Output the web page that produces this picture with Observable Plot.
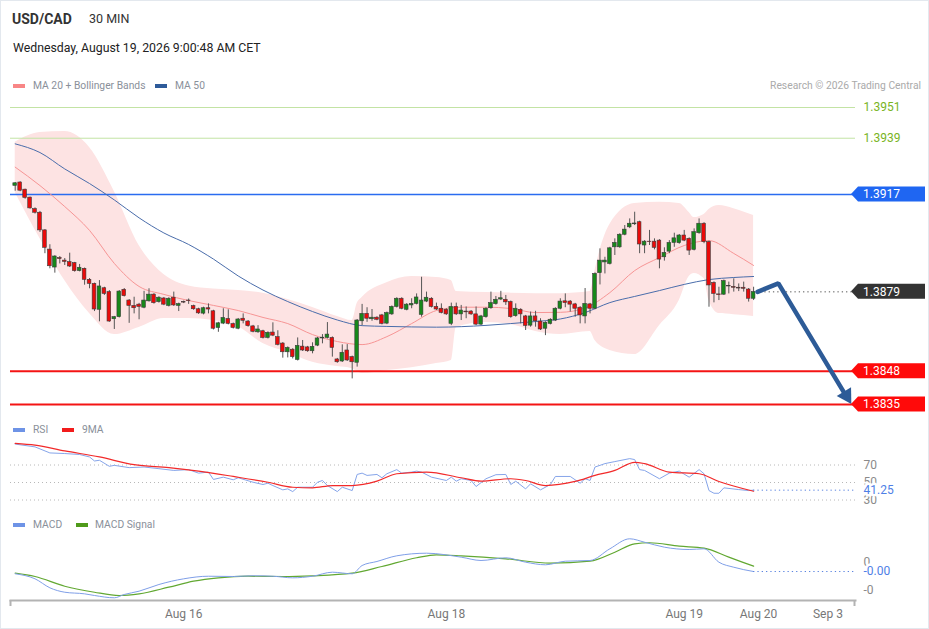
<!DOCTYPE html>
<html><head><meta charset="utf-8">
<script src="https://cdn.jsdelivr.net/npm/d3@7"></script>
<script src="https://cdn.jsdelivr.net/npm/@observablehq/plot@0.6"></script>
<style>
body{margin:0;background:#fff;font-family:Roboto,"Liberation Sans",sans-serif;}
#wrap{position:relative;width:929px;height:629px;overflow:hidden;background:#fff;}
#border{position:absolute;left:0;top:0;width:929px;height:629px;box-sizing:border-box;border:1px solid #e3e8ee;pointer-events:none;}
.a{position:absolute;white-space:nowrap;}
.lg{font-size:10.3px;line-height:12px;color:#8a909a;}
.sw{position:absolute;width:12px;height:4px;}
svg{position:absolute;left:0;}
</style></head>
<body><div id="wrap">
<div class="a" style="left:12px;top:11px;font-size:14px;line-height:16px;font-weight:bold;color:#333;">USD/CAD</div>
<div class="a" style="left:89px;top:11px;font-size:12.5px;line-height:16px;color:#333;">30 MIN</div>
<div class="a" style="left:13px;top:40px;font-size:12.3px;line-height:16px;color:#222;">Wednesday, August 19, 2026 9:00:48 AM CET</div>
<div class="sw" style="left:13px;top:84px;background:#f88686;"></div>
<div class="a lg" style="left:33px;top:80px;">MA 20 + Bollinger Bands</div>
<div class="sw" style="left:155px;top:84px;background:#2e5b9a;"></div>
<div class="a lg" style="left:175px;top:80px;">MA 50</div>
<div class="a lg" style="right:8px;top:80px;color:#aaaaaa;">Research © 2026 Trading Central</div>
<div class="sw" style="left:13px;top:428px;background:#6e93e6;"></div>
<div class="a lg" style="left:33px;top:424px;">RSI</div>
<div class="sw" style="left:62px;top:428px;background:#f21c1c;"></div>
<div class="a lg" style="left:82px;top:424px;">9MA</div>
<div class="sw" style="left:13px;top:523px;background:#6e93e6;"></div>
<div class="a lg" style="left:33px;top:519px;">MACD</div>
<div class="sw" style="left:76px;top:523px;background:#4f9a1a;"></div>
<div class="a lg" style="left:95px;top:519px;">MACD Signal</div>
<div id="border"></div>
</div>
<script>
// ---- Candles (30 min) ----
const candleOpen = [1.39204,1.39217,1.39189,1.39158,1.39113,1.39099,1.39030,1.38955,1.38885,1.38922,
1.38912,1.38906,1.38902,1.38871,1.38880,1.38837,1.38821,1.38720,1.38804,1.38789,
1.38683,1.38691,1.38798,1.38756,1.38735,1.38740,1.38728,1.38753,1.38779,1.38750,
1.38764,1.38735,1.38767,1.38735,1.38750,1.38756,1.38734,1.38722,1.38705,1.38726,
1.38714,1.38649,1.38666,1.38684,1.38664,1.38646,1.38685,1.38674,1.38655,1.38632,
1.38636,1.38610,1.38631,1.38613,1.38588,1.38554,1.38564,1.38524,1.38576,1.38573,
1.38558,1.38580,1.38608,1.38610,1.38610,1.38526,1.38518,1.38561,1.38535,1.38513,
1.38675,1.38704,1.38683,1.38689,1.38698,1.38666,1.38702,1.38731,1.38763,1.38720,
1.38737,1.38743,1.38700,1.38752,1.38763,1.38731,1.38724,1.38720,1.38665,1.38731,
1.38702,1.38713,1.38713,1.38702,1.38662,1.38691,1.38726,1.38742,1.38760,1.38759,
1.38750,1.38695,1.38720,1.38694,1.38658,1.38694,1.38674,1.38646,1.38665,1.38678,
1.38724,1.38753,1.38752,1.38741,1.38728,1.38694,1.38741,1.38724,1.38863,1.38905,
1.38899,1.38964,1.38964,1.39013,1.39042,1.39054,1.39062,1.38971,1.38986,1.38986,
1.38990,1.38925,1.38947,1.38981,1.38980,1.39010,1.38997,1.38954,1.39019,1.39056,
1.38984,1.38825,1.38780,1.38779,1.38813,1.38809,1.38806,1.38806,1.38799,1.38763];
const candleHigh = [1.39217,1.39220,1.39191,1.39160,1.39118,1.39104,1.39033,1.38974,1.38931,1.38928,
1.38920,1.38941,1.38905,1.38897,1.38883,1.38842,1.38824,1.38834,1.38808,1.38795,
1.38694,1.38795,1.38803,1.38760,1.38769,1.38745,1.38792,1.38802,1.38783,1.38771,
1.38768,1.38767,1.38789,1.38746,1.38754,1.38762,1.38738,1.38726,1.38730,1.38743,
1.38718,1.38671,1.38724,1.38720,1.38668,1.38686,1.38704,1.38678,1.38659,1.38658,
1.38640,1.38634,1.38669,1.38638,1.38592,1.38575,1.38568,1.38610,1.38600,1.38577,
1.38591,1.38612,1.38623,1.38670,1.38614,1.38530,1.38583,1.38584,1.38539,1.38682,
1.38741,1.38728,1.38721,1.38693,1.38702,1.38711,1.38735,1.38767,1.38767,1.38744,
1.38763,1.38782,1.38847,1.38789,1.38767,1.38746,1.38743,1.38724,1.38746,1.38746,
1.38737,1.38731,1.38717,1.38731,1.38698,1.38728,1.38789,1.38772,1.38792,1.38776,
1.38754,1.38743,1.38724,1.38698,1.38711,1.38714,1.38685,1.38673,1.38685,1.38728,
1.38763,1.38782,1.38756,1.38745,1.38732,1.38803,1.38745,1.38864,1.38958,1.38925,
1.38964,1.38997,1.39017,1.39049,1.39075,1.39101,1.39066,1.38990,1.39030,1.38997,
1.38994,1.38962,1.38990,1.39019,1.39014,1.39030,1.39001,1.39036,1.39075,1.39060,
1.38988,1.38829,1.38808,1.38836,1.38828,1.38841,1.38821,1.38828,1.38803,1.38808];
const candleLow = [1.39183,1.39181,1.39152,1.39113,1.39094,1.39022,1.38939,1.38880,1.38863,1.38899,
1.38893,1.38885,1.38867,1.38868,1.38816,1.38802,1.38713,1.38673,1.38776,1.38671,
1.38643,1.38688,1.38770,1.38667,1.38704,1.38681,1.38724,1.38750,1.38742,1.38746,
1.38736,1.38731,1.38733,1.38713,1.38744,1.38741,1.38718,1.38702,1.38700,1.38704,
1.38641,1.38632,1.38662,1.38661,1.38645,1.38642,1.38665,1.38652,1.38630,1.38628,
1.38606,1.38606,1.38615,1.38579,1.38531,1.38532,1.38528,1.38520,1.38557,1.38554,
1.38548,1.38576,1.38587,1.38606,1.38535,1.38511,1.38514,1.38518,1.38450,1.38496,
1.38658,1.38671,1.38675,1.38677,1.38661,1.38662,1.38698,1.38727,1.38720,1.38716,
1.38724,1.38739,1.38691,1.38748,1.38727,1.38717,1.38704,1.38698,1.38658,1.38698,
1.38678,1.38685,1.38698,1.38658,1.38658,1.38687,1.38722,1.38738,1.38756,1.38737,
1.38687,1.38691,1.38665,1.38639,1.38652,1.38652,1.38639,1.38619,1.38661,1.38674,
1.38720,1.38728,1.38711,1.38691,1.38665,1.38665,1.38704,1.38720,1.38817,1.38860,
1.38895,1.38932,1.38960,1.39009,1.39037,1.39049,1.38939,1.38939,1.38971,1.38954,
1.38880,1.38910,1.38939,1.38964,1.38976,1.38986,1.38932,1.38950,1.39015,1.38978,
1.38730,1.38747,1.38756,1.38776,1.38782,1.38789,1.38791,1.38789,1.38750,1.38756];
const candleClose = [1.39214,1.39185,1.39157,1.39116,1.39099,1.39030,1.38962,1.38890,1.38928,1.38918,
1.38907,1.38889,1.38871,1.38884,1.38837,1.38821,1.38721,1.38811,1.38782,1.38674,
1.38691,1.38791,1.38773,1.38735,1.38726,1.38731,1.38756,1.38779,1.38746,1.38767,
1.38740,1.38763,1.38737,1.38742,1.38748,1.38754,1.38722,1.38706,1.38726,1.38721,
1.38646,1.38667,1.38688,1.38665,1.38649,1.38682,1.38677,1.38656,1.38634,1.38643,
1.38610,1.38630,1.38619,1.38583,1.38554,1.38571,1.38535,1.38579,1.38561,1.38558,
1.38575,1.38608,1.38611,1.38623,1.38571,1.38515,1.38552,1.38522,1.38515,1.38678,
1.38704,1.38685,1.38689,1.38681,1.38665,1.38707,1.38731,1.38763,1.38724,1.38740,
1.38743,1.38768,1.38756,1.38767,1.38731,1.38721,1.38708,1.38702,1.38731,1.38702,
1.38717,1.38710,1.38702,1.38662,1.38694,1.38724,1.38746,1.38759,1.38765,1.38749,
1.38691,1.38724,1.38702,1.38657,1.38694,1.38675,1.38643,1.38669,1.38681,1.38724,
1.38752,1.38746,1.38740,1.38724,1.38698,1.38743,1.38724,1.38860,1.38912,1.38912,
1.38960,1.38981,1.39013,1.39033,1.39056,1.39057,1.38975,1.38986,1.38984,1.38962,
1.38916,1.38942,1.38981,1.38999,1.39010,1.38990,1.38951,1.39023,1.39056,1.38984,
1.38815,1.38782,1.38777,1.38832,1.38811,1.38806,1.38803,1.38802,1.38763,1.38789];

// ---- Bollinger bands (MA 20) ----
const bbIdx = [0,5,10,15,20,25,30,35,40,45,50,55,60,65,68,69,70,75,80,85,88,89,95,100,105,110,116,117,118,120,125,130,134,136,137,139,140,142,145,149];
const bbUpper = [1.39374,1.39412,1.39416,1.39354,1.39182,1.38971,1.38858,1.38813,1.38801,1.38795,1.38785,1.38760,1.38729,1.38694,1.38678,1.38744,1.38768,1.38826,1.38850,1.38846,1.38834,1.38791,1.38787,1.38785,1.38783,1.38783,1.38791,1.38873,1.38951,1.39053,1.39135,1.39140,1.39135,1.39100,1.39080,1.39092,1.39112,1.39127,1.39115,1.39088];
const bbLower = [1.39178,1.38998,1.38834,1.38705,1.38623,1.38651,1.38686,1.38686,1.38678,1.38654,1.38588,1.38553,1.38515,1.38498,1.38490,1.38479,1.38471,1.38483,1.38494,1.38510,1.38522,1.38651,1.38670,1.38662,1.38635,1.38623,1.38635,1.38600,1.38580,1.38561,1.38545,1.38658,1.38756,1.38850,1.38862,1.38842,1.38756,1.38705,1.38701,1.38694];

// ---- Moving averages ----
const maIdx = [0,5,10,15,20,25,30,35,40,45,50,55,60,65,70,75,80,85,90,95,100,105,110,115,120,125,130,135,140,145,149];
const ma20 = [1.39277,1.39205,1.39123,1.39030,1.38901,1.38811,1.38780,1.38756,1.38737,1.38717,1.38690,1.38666,1.38623,1.38596,1.38584,1.38615,1.38666,1.38717,1.38730,1.38730,1.38725,1.38709,1.38710,1.38727,1.38787,1.38873,1.38924,1.38971,1.38990,1.38940,1.38893];
const ma50 = [1.39368,1.39334,1.39270,1.39213,1.39149,1.39079,1.39020,1.38975,1.38918,1.38852,1.38797,1.38752,1.38713,1.38680,1.38658,1.38655,1.38653,1.38652,1.38654,1.38659,1.38666,1.38674,1.38684,1.38709,1.38748,1.38772,1.38795,1.38819,1.38838,1.38846,1.38850];

// ---- Levels ----
const greenLevels = [1.3951, 1.3939];
const blueLevel = 1.3917;
const lastPrice = 1.3879;
const redLevels = [1.3848, 1.3835];

// ---- Forecast arrow ----
const arrowIdx = [149.8, 154, 167.2];
const arrowPrice = [1.3879, 1.38823, 1.38398];
const arrowHead = {i: 167.72, v: 1.38384};

// ---- RSI ----
const rsiIdx = [0,4,7,10,13,15,16,17,19,20,23,26,29,32,35,37,39,40,42,44,45,48,50,51,52,54,55,56,57,60,61,62,63,65,66,68,69,70,71,73,74,75,77,78,80,81,82,84,87,88,89,90,92,93,95,97,99,100,101,103,104,106,108,109,112,114,115,116,117,118,119,121,124,125,126,127,130,132,134,136,138,139,140,141,142,143,146,148,149];
const rsiVal = [93.9,90.7,83.8,83.1,82.0,79.2,74.6,75.4,68.5,69.6,67.0,67.7,65.8,63.8,64.7,60.7,61.9,53.5,56.1,53.1,55.4,50.3,47.7,49.2,46.5,41.6,42.7,39.6,44.6,44.6,50.3,52.3,46.5,39.6,44.6,40.8,59.2,60.7,58.1,59.2,55.4,60.0,64.7,60.7,61.9,63.0,61.9,56.1,52.3,56.1,51.5,54.3,52.3,45.4,54.3,58.9,59.2,47.7,51.5,42.7,48.5,41.6,47.7,56.9,56.9,49.2,54.3,52.3,67.7,69.6,71.6,73.9,77.3,76.2,64.7,63.8,54.3,60.7,63.0,56.1,64.7,60.0,40.8,37.7,37.7,43.9,41.9,40.8,41.25];
const rsiMaIdx = [0,4,10,17,24,31,37,44,51,56,60,64,68,73,77,83,90,94,100,103,107,113,117,121,125,127,132,138,142,149];
const rsiMa = [94.7,92.7,86.1,79.2,70.4,67.0,63.0,56.9,50.3,44.6,43.9,46.5,46.5,51.5,60.0,61.9,55.4,51.5,54.3,52.3,46.5,51.2,58.1,63.8,73.1,71.6,61.9,60.0,51.2,40.0];
const rsiTicks = [70, 50, 30];
const rsiLast = 41.25;

// ---- MACD ----
const macdIdx = [0,4,7,10,14,16,20,22,25,29,34,39,44,48,52,56,60,64,68,70,73,77,83,90,94,99,103,107,111,116,120,124,127,131,136,139,142,145,149];
const macdVal = [-0.00021,-0.000301,-0.000464,-0.000544,-0.000573,-0.000603,-0.000645,-0.000585,-0.000525,-0.000404,-0.000301,-0.000254,-0.000259,-0.000246,-0.000254,-0.000283,-0.000254,-0.000181,-0.00021,-0.00006,0.000013,0.000116,0.000163,0.000091,0.000031,0.00008,0,-0.000047,0.000018,0.000031,0.000243,0.000424,0.000362,0.000272,0.00023,0.000243,0,-0.000091,-0.000169];
const signalIdx = [0,4,10,16,21,25,31,36,41,47,54,60,68,74,81,85,90,99,108,116,121,125,128,134,139,144,149];
const signalVal = [-0.000199,-0.000259,-0.000435,-0.000544,-0.000603,-0.000573,-0.000453,-0.000344,-0.000283,-0.000254,-0.000259,-0.000246,-0.000199,-0.000078,0.00008,0.000134,0.000116,0.000062,-0.000018,0.000018,0.000181,0.000333,0.000352,0.00029,0.000254,0.000091,-0.000072];
const macdTicks = [0, -0.0005];
const macdTickLabels = ["0", "-0"];
const macdLastLabel = "-0.00";

// ---- X axis ----
const xTickIdx = [34, 87, 135, 150, 164];
const xTickLabels = ["Aug 16", "Aug 18", "Aug 19", "Aug 20", "Sep 3"];

// ---------- build ----------
const candles = candleOpen.map((o, i) => ({i, o, h: candleHigh[i], l: candleLow[i], c: candleClose[i]}));
const bb = bbIdx.map((i, k) => ({i, hi: bbUpper[k], lo: bbLower[k]}));
const ma20Data = maIdx.map((i, k) => ({i, v: ma20[k]}));
const ma50Data = maIdx.map((i, k) => ({i, v: ma50[k]}));
const arrowData = arrowIdx.map((i, k) => ({i, v: arrowPrice[k]}));
const rsiData = rsiIdx.map((i, k) => ({i, v: rsiVal[k]}));
const rsiMaData = rsiMaIdx.map((i, k) => ({i, v: rsiMa[k]}));
const macdData = macdIdx.map((i, k) => ({i, v: macdVal[k]}));
const signalData = signalIdx.map((i, k) => ({i, v: signalVal[k]}));
const lastI = candles.length - 1;

const W = 929;
const xEnd = 169.55; // right edge of the plotting frame, in candle units
const xOpt = {domain: [0, 149], range: [14.7, 753.1], axis: null};
const style = {background: "transparent", fontFamily: "Roboto, 'Liberation Sans', sans-serif", fontSize: "12px", overflow: "visible"};
const GREEN = "#17881a", RED = "#ea0a0a";

const main = Plot.plot({
  width: W, height: 320, marginLeft: 10, marginRight: 74, marginTop: 0, marginBottom: 0,
  x: xOpt,
  y: {domain: [1.3835, 1.3951], range: [309, 12], axis: null},
  style,
  marks: [
    Plot.areaY(bb, {x: "i", y1: "lo", y2: "hi", fill: "#fde3e3", curve: "monotone-x"}),
    Plot.ruleY(greenLevels, {stroke: "#c3e3a4", strokeWidth: 1}),
    Plot.ruleY([blueLevel], {stroke: "#2a6cf0", strokeWidth: 1.5}),
    Plot.ruleY(redLevels, {stroke: "#f41414", strokeWidth: 2}),
    Plot.line(ma20Data, {x: "i", y: "v", stroke: "#f79595", strokeWidth: 1, curve: "monotone-x"}),
    Plot.line(ma50Data, {x: "i", y: "v", stroke: "#4a6dab", strokeWidth: 1, curve: "monotone-x"}),
    Plot.ruleX(candles, {x: "i", y1: "l", y2: "h", stroke: "#555", strokeWidth: 1}),
    Plot.rect(candles, {x1: d => d.i - 0.37, x2: d => d.i + 0.37, y1: "o", y2: "c",
      fill: d => d.c >= d.o ? GREEN : RED, stroke: "#3a3a3a", strokeWidth: 0.6}),
    Plot.ruleY([lastPrice], {x1: lastI + 1.4, x2: xEnd, stroke: "#555", strokeDasharray: "1.3,3", strokeWidth: 1}),
    Plot.line(arrowData, {x: "i", y: "v", stroke: "#2d5b97", strokeWidth: 4.5, strokeLinejoin: "miter"}),
    Plot.dot([arrowHead], {x: "i", y: "v", symbol: "triangle", r: 6.2, rotate: 149, fill: "#2d5b97"}),
    Plot.text(greenLevels, {y: d => d, text: d => d.toFixed(4), frameAnchor: "right", dx: 8, textAnchor: "start", fill: "#79b41e", fontSize: 12})
  ]
});
main.style.top = "95px";
document.getElementById("wrap").appendChild(main);

// price tags
const ys = main.scale("y");
const mainSvg = d3.select(main);
[[blueLevel, "#1f66f2"], [lastPrice, "#333333"], [redLevels[0], "#ff0a0a"], [redLevels[1], "#ff0a0a"]].forEach(([v, col]) => {
  const y = ys.apply(v);
  mainSvg.append("path")
    .attr("d", `M851,${y} L858,${y - 7.5} L925,${y - 7.5} L925,${y + 7.5} L858,${y + 7.5} Z`)
    .attr("fill", col);
  mainSvg.append("text").attr("x", 863).attr("y", y).attr("dy", "0.35em")
    .attr("text-anchor", "start")
    .attr("fill", "#fff").attr("font-size", 12).text(v.toFixed(4));
});

const rsi = Plot.plot({
  width: W, height: 90, marginLeft: 10, marginRight: 74, marginTop: 0, marginBottom: 0,
  x: xOpt,
  y: {domain: [30, 70], range: [79.5, 44.5], axis: null},
  style,
  marks: [
    Plot.ruleY(rsiTicks, {stroke: "#b8b8b8", strokeDasharray: "1,3"}),
    Plot.line(rsiData, {x: "i", y: "v", stroke: "#86a5ea", strokeWidth: 1}),
    Plot.line(rsiMaData, {x: "i", y: "v", stroke: "#f22a2a", strokeWidth: 1.2, curve: "monotone-x"}),
    Plot.ruleY([rsiLast], {x1: lastI, x2: xEnd, stroke: "#5b84e0", strokeDasharray: "1.3,3"}),
    Plot.text(rsiTicks, {y: d => d, text: d => String(d), frameAnchor: "right", dx: 8, textAnchor: "start", fill: "#8a8a8a", fontSize: 12}),
    Plot.text([rsiLast], {y: d => d, text: d => d.toFixed(2), frameAnchor: "right", dx: 8, textAnchor: "start", fill: "#4f7fe6", fontSize: 12, stroke: "#fff", strokeWidth: 5})
  ]
});
rsi.style.top = "420px";
document.getElementById("wrap").appendChild(rsi);

const macd = Plot.plot({
  width: W, height: 119, marginLeft: 10, marginRight: 74, marginTop: 0, marginBottom: 29,
  x: {...xOpt, label: null},
  y: {domain: [-0.0005, 0], range: [79.3, 51.7], axis: null},
  style,
  marks: [
    Plot.line(signalData, {x: "i", y: "v", stroke: "#62a832", strokeWidth: 1.2, curve: "monotone-x"}),
    Plot.line(macdData, {x: "i", y: "v", stroke: "#7f9fe8", strokeWidth: 1, curve: "monotone-x"}),
    Plot.ruleY([macdVal[macdVal.length - 1]], {x1: lastI, x2: xEnd, stroke: "#5b84e0", strokeDasharray: "1.3,3"}),
    Plot.text(macdTicks, {y: d => d, text: (d, i) => macdTickLabels[i], frameAnchor: "right", dx: 8, textAnchor: "start", fill: "#8a8a8a", fontSize: 12}),
    Plot.text([macdVal[macdVal.length - 1]], {y: d => d, text: () => macdLastLabel, frameAnchor: "right", dx: 8, textAnchor: "start", fill: "#4f7fe6", fontSize: 12, stroke: "#fff", strokeWidth: 5}),
    Plot.frame({anchor: "bottom", stroke: "#b3b3b3", strokeWidth: 2}),
    Plot.axisX(xTickIdx, {tickFormat: d => xTickLabels[xTickIdx.indexOf(d)], tickSize: 0, tickPadding: 9, fill: "#777", fontSize: 12, stroke: null, label: null})
  ]
});
macd.style.top = "510px";
document.getElementById("wrap").appendChild(macd);
const ms = d3.select(macd);
[10.5, 854.5].forEach(x => ms.append("line").attr("x1", x).attr("x2", x).attr("y1", 90).attr("y2", 96).attr("stroke", "#b3b3b3").attr("stroke-width", 2));
</script>
</body></html>
